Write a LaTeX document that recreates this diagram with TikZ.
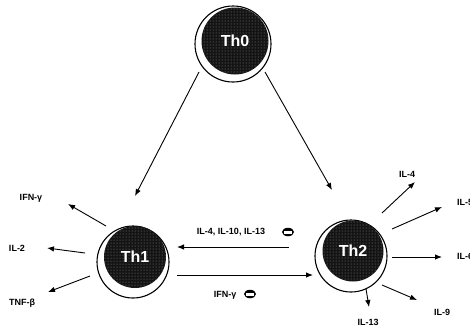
\documentclass[tikz,border=0pt]{standalone}
\usepackage{fontspec}
\setmainfont{Liberation Sans}
\usetikzlibrary{arrows.meta,patterns,shapes.geometric}
\begin{document}
\begin{tikzpicture}[x=1pt,y=-1pt,
  outercell/.style={circle,draw=black,line width=1.1pt,fill=white,inner sep=0pt,minimum size=#1},
  innercell/.style={circle,fill=black!92,inner sep=0pt,minimum size=#1,text=white,
      font=\fontsize{16}{16}\selectfont\bfseries,
      postaction={pattern=dots,pattern color=white!55!black}},
  lbl/.style={font=\fontsize{9}{10}\selectfont\bfseries,inner sep=0pt},
  arr/.style={line width=0.9pt,-{Latex[length=7pt,width=5.5pt]}},
  minus/.style={ellipse,fill=black,minimum width=12pt,minimum height=8.5pt,inner sep=0pt}
]
\useasboundingbox (0,0) rectangle (470,327);
\fill[white] (0,0) rectangle (470,327);

% cells
\node[outercell=76pt] (th0) at (233,44) {};
\node[innercell=67pt] (th0c) at (235,41) {Th0};
\node[outercell=72pt] (th1) at (133,262) {};
\node[innercell=62pt] (th1c) at (135,257) {Th1};
\node[outercell=72pt] (th2) at (351,256) {};
\node[innercell=61pt] (th2c) at (353,251) {Th2};

% coordinates
\coordinate (a1s) at (199,72);  \coordinate (a1e) at (135,196);
\coordinate (a2s) at (265,72);  \coordinate (a2e) at (332,190);
\coordinate (u1) at (289,247);  \coordinate (u2) at (177,247);
\coordinate (l1) at (177,275);  \coordinate (l2) at (313,275);

\draw[arr] (a1s) -- (a1e);
\draw[arr] (a2s) -- (a2e);
\draw[arr] (u1) -- (u2);
\draw[arr] (l1) -- (l2);

\node[lbl] (lup) at (231,232) {IL-4, IL-10, IL-13};
\node[minus] (m1) at (288,232) {};
\fill[white] (284,231) rectangle (292,233.5);
\node[lbl] (ldn) at (225,295) {IFN-γ};
\node[minus] (m2) at (250,294) {};
\fill[white] (246,293) rectangle (254,295.5);

% Th1 products
\node[lbl] (ifn) at (31,198) {IFN-γ};
\node[lbl] (il2) at (17,248) {IL-2};
\node[lbl] (tnf) at (22,303) {TNF-β};
\coordinate (t1a) at (106,226); \coordinate (t1b) at (68,204);
\coordinate (t2a) at (85,253);  \coordinate (t2b) at (47,248);
\coordinate (t3a) at (90,276);  \coordinate (t3b) at (48,292);
\draw[arr] (t1a) -- (t1b);
\draw[arr] (t2a) -- (t2b);
\draw[arr] (t3a) -- (t3b);

% Th2 products
\node[lbl] (il4) at (407,174) {IL-4};
\node[lbl,anchor=west] (il5) at (457,202) {IL-5};
\node[lbl,anchor=west] (il6) at (457,256) {IL-6};
\node[lbl] (il9) at (442,312) {IL-9};
\node[lbl] (il13) at (368,322) {IL-13};
\coordinate (s1a) at (382,213); \coordinate (s1b) at (415,182);
\coordinate (s2a) at (392,229); \coordinate (s2b) at (442,207);
\coordinate (s3a) at (392,257); \coordinate (s3b) at (442,257);
\coordinate (s4a) at (382,285); \coordinate (s4b) at (417,300);
\coordinate (s5a) at (366,289); \coordinate (s5b) at (369,307);
\draw[arr] (s1a) -- (s1b);
\draw[arr] (s2a) -- (s2b);
\draw[arr] (s3a) -- (s3b);
\draw[arr] (s4a) -- (s4b);
\draw[arr] (s5a) -- (s5b);
\end{tikzpicture}
\end{document}
